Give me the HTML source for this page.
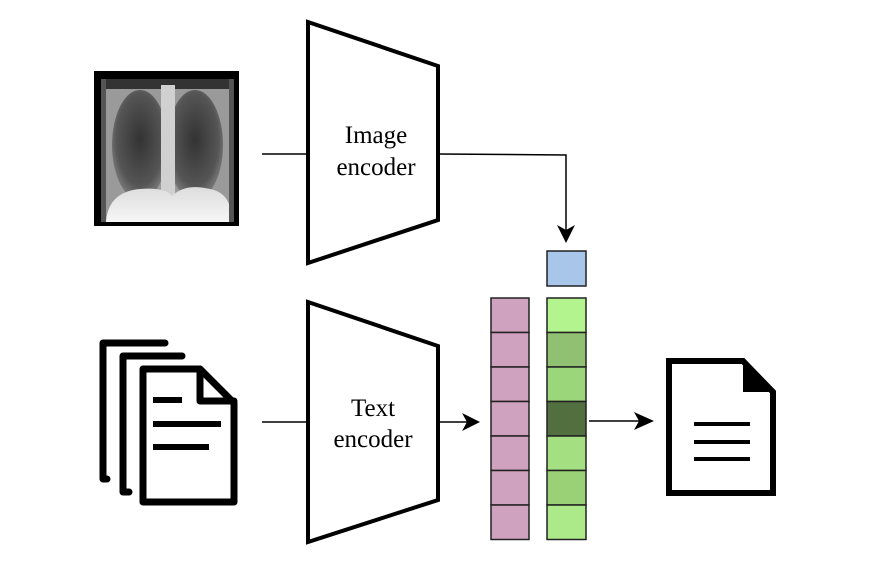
<!DOCTYPE html>
<html><head><style>
html,body{margin:0;padding:0;background:#fff;width:872px;height:564px;overflow:hidden}
</style></head><body>
<svg width="872" height="564" viewBox="0 0 872 564" xmlns="http://www.w3.org/2000/svg">
<defs>
<radialGradient id="lungL" cx="0.5" cy="0.45" r="0.6"><stop offset="0" stop-color="#333"/><stop offset="0.7" stop-color="#555"/><stop offset="1" stop-color="#8a8a8a"/></radialGradient>
<linearGradient id="belly" x1="0" y1="0" x2="0" y2="1"><stop offset="0" stop-color="#ddd"/><stop offset="1" stop-color="#f6f6f6"/></linearGradient>
</defs>
<rect x="94" y="71" width="145" height="155" fill="#000"/>
<rect x="101" y="79" width="133" height="143" fill="#9a9a9a"/>
<rect x="101" y="79" width="133" height="10" fill="#333"/>
<ellipse cx="140" cy="145" rx="28" ry="55" fill="url(#lungL)"/>
<ellipse cx="195" cy="145" rx="28" ry="55" fill="url(#lungL)"/>
<rect x="161" y="85" width="14" height="112" fill="#d0d0d0"/>
<path d="M106 222 Q108 192 140 189 Q165 187 172 196 Q185 183 210 189 Q232 193 232 222 Z" fill="url(#belly)"/>
<rect x="101" y="79" width="5" height="143" fill="#555"/>
<rect x="229" y="79" width="5" height="143" fill="#555"/>
<polygon points="308,22 438,66 438,220 308,263" fill="#fff" stroke="#000" stroke-width="4"/>
<text x="376" y="143" font-family="Liberation Serif,serif" font-size="25" text-anchor="middle">Image</text>
<text x="376" y="175" font-family="Liberation Serif,serif" font-size="25" text-anchor="middle">encoder</text>
<line x1="262" y1="154" x2="308" y2="154" stroke="#000" stroke-width="1.5"/>
<polyline points="438,154 566,155 566,230" fill="none" stroke="#000" stroke-width="1.5"/>
<polygon points="557,225 566,243 575,225 566,230" fill="#000"/>
<polygon points="308,302 438,346 438,500 308,542" fill="#fff" stroke="#000" stroke-width="4"/>
<text x="373" y="416" font-family="Liberation Serif,serif" font-size="25" text-anchor="middle">Text</text>
<text x="373" y="447" font-family="Liberation Serif,serif" font-size="25" text-anchor="middle">encoder</text>
<line x1="262" y1="422" x2="308" y2="422" stroke="#000" stroke-width="1.5"/>
<line x1="438" y1="422" x2="468" y2="422" stroke="#000" stroke-width="1.5"/>
<polygon points="462,413 480,422 462,431 467,422" fill="#000"/>
<g stroke="#222" stroke-width="1.5">
<rect x="491" y="298" width="38" height="34.5" fill="#cfa3bf"/>
<rect x="491" y="332.5" width="38" height="34.5" fill="#cfa3bf"/>
<rect x="491" y="367" width="38" height="34.5" fill="#cfa3bf"/>
<rect x="491" y="401.5" width="38" height="34.5" fill="#cfa3bf"/>
<rect x="491" y="436" width="38" height="34.5" fill="#cfa3bf"/>
<rect x="491" y="470.5" width="38" height="34.5" fill="#cfa3bf"/>
<rect x="491" y="505" width="38" height="34.5" fill="#cfa3bf"/>
<rect x="547" y="251" width="39" height="35" fill="#a8c5ea"/>
<rect x="547" y="298" width="39" height="34.5" fill="#b3f48f"/>
<rect x="547" y="332.5" width="39" height="34.5" fill="#90c172"/>
<rect x="547" y="367" width="39" height="34.5" fill="#9bd67a"/>
<rect x="547" y="401.5" width="39" height="34.5" fill="#526f40"/>
<rect x="547" y="436" width="39" height="34.5" fill="#a4e082"/>
<rect x="547" y="470.5" width="39" height="34.5" fill="#9ad177"/>
<rect x="547" y="505" width="39" height="34.5" fill="#ace989"/>
</g>
<line x1="589" y1="421" x2="642" y2="421" stroke="#000" stroke-width="1.5"/>
<polygon points="634,412 654,421 634,430 639,421" fill="#000"/>
<polygon points="669,361 743,361 773,392 773,493 669,493" fill="#fff" stroke="#000" stroke-width="6"/>
<polygon points="743,358 776,392 743,392" fill="#000"/>
<g stroke="#000" stroke-width="4"><line x1="694" y1="424" x2="750" y2="424"/><line x1="694" y1="442" x2="750" y2="442"/><line x1="694" y1="459" x2="750" y2="459"/></g>
<g fill="none" stroke="#000" stroke-width="7" stroke-linejoin="round" stroke-linecap="round">
<polyline points="165,343 103,343 103,479 107,479"/>
<polyline points="182,356 123,356 123,492 129,492"/>
<path d="M143 369 L200 369 L234 403 L234 502 L143 502 Z"/>
<polyline points="200,369 200,401 234,401"/>
</g>
<g stroke="#000" stroke-width="6"><line x1="153" y1="400" x2="182" y2="400"/><line x1="153" y1="424" x2="221" y2="424"/><line x1="153" y1="447" x2="209" y2="447"/></g>
</svg>
</body></html>
